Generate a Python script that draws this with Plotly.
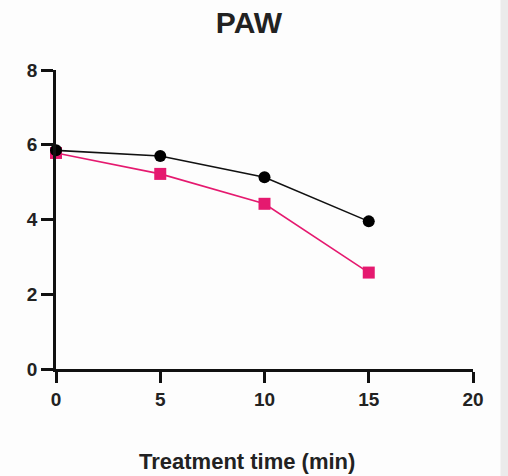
import plotly.graph_objects as go

time_min = [0, 5, 10, 15]
series_black = [5.85, 5.70, 5.13, 3.95]
series_pink = [5.78, 5.22, 4.42, 2.58]
x_ticks = [0, 5, 10, 15, 20]
y_ticks = [0, 2, 4, 6, 8]

fig = go.Figure()
fig.add_trace(go.Scatter(x=time_min, y=series_pink, mode="lines+markers",
                         line=dict(color="#E5196F", width=1.6),
                         marker=dict(symbol="square", size=12, color="#E5196F"),
                         cliponaxis=False, showlegend=False))
fig.add_trace(go.Scatter(x=time_min, y=series_black, mode="lines+markers",
                         line=dict(color="#111111", width=1.6),
                         marker=dict(symbol="circle", size=12, color="#000000"),
                         cliponaxis=False, showlegend=False))

fig.add_shape(type="rect", xref="paper", yref="paper", x0=1.066, x1=1.2, y0=-0.5, y1=1.5,
              fillcolor="#ebebeb", line=dict(width=0), layer="below")

fig.add_annotation(text="<b>Treatment time (min)</b>", xref="paper", yref="paper",
                   x=0.459, y=-0.308, xanchor="center", yanchor="middle", showarrow=False,
                   font=dict(family="Liberation Sans, Arial", size=22, color="#222222"))

fig.update_layout(
    width=508, height=476,
    margin=dict(l=56, r=35, t=70, b=107),
    paper_bgcolor="#fdfdfd", plot_bgcolor="rgba(0,0,0,0)",
    title=dict(text="<b>PAW</b>", x=0.49, xanchor="center", y=0.952, yanchor="middle",
               font=dict(family="Liberation Sans, Arial", size=30, color="#222222")),
    font=dict(family="Liberation Sans, Arial", color="#222222"),
)
fig.update_xaxes(range=[0, 20], tickvals=x_ticks, showgrid=False, zeroline=False,
                 showline=True, linecolor="#111111", linewidth=2.5,
                 ticks="outside", ticklen=11, tickwidth=2.5, tickcolor="#111111",
                 tickfont=dict(size=19, weight="bold", color="#222222"))
fig.update_yaxes(range=[0, 8], tickvals=y_ticks, showgrid=False, zeroline=False,
                 showline=True, linecolor="#111111", linewidth=2.5,
                 ticks="outside", ticklen=12, tickwidth=2.5, tickcolor="#111111",
                 tickfont=dict(size=19, weight="bold", color="#222222"))

fig.write_html("out.html")
